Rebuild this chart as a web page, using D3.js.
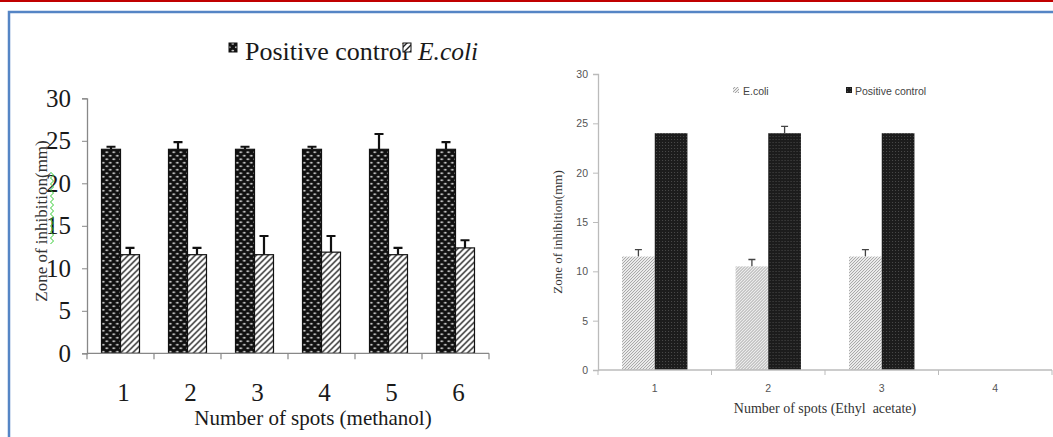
<!DOCTYPE html>
<html><head><meta charset="utf-8">
<script src="https://cdn.jsdelivr.net/npm/d3@7"></script>
<style>html,body{margin:0;padding:0;background:#fff;}svg{display:block;}</style>
</head><body>
<script>
// ---- data ----
const methanolCategories = ["1","2","3","4","5","6"];
const methanolPositive    = [24, 24, 24, 24, 24, 24];
const methanolPositiveErr = [0.3, 0.85, 0.3, 0.3, 1.8, 0.85];
const methanolEcoli       = [11.6, 11.6, 11.6, 11.9, 11.6, 12.4];
const methanolEcoliErr    = [0.8, 0.8, 2.2, 1.9, 0.8, 0.9];

const ethylCategories   = ["1","2","3","4"];
const ethylEcoli        = [11.5, 10.5, 11.5, null];
const ethylEcoliErr     = [0.7, 0.7, 0.7, null];
const ethylPositive     = [24, 24, 24, null];
const ethylPositiveErr  = [0, 0.7, 0, null];

const yTicks = [0, 5, 10, 15, 20, 25, 30];
const legendLeft  = ["Positive control", "E.coli"];
const legendRight = ["E.coli", "Positive control"];

const W = 1053, H = 437;
const svg = d3.select("body").append("svg").attr("width", W).attr("height", H);
const defs = svg.append("defs");

// patterns
const pDots = defs.append("pattern").attr("id","pDots").attr("patternUnits","userSpaceOnUse").attr("width",7).attr("height",7);
pDots.append("rect").attr("width",7).attr("height",7).attr("fill","#111");
pDots.append("ellipse").attr("cx",1.8).attr("cy",1.8).attr("rx",1.4).attr("ry",1).attr("fill","#c4c4c4");
pDots.append("ellipse").attr("cx",5.3).attr("cy",5.3).attr("rx",1.4).attr("ry",1).attr("fill","#c4c4c4");

const pHatch = defs.append("pattern").attr("id","pHatch").attr("patternUnits","userSpaceOnUse").attr("width",6).attr("height",6);
pHatch.append("rect").attr("width",6).attr("height",6).attr("fill","#fff");
pHatch.append("path").attr("d","M-1,7 L7,-1 M-4,4 L4,-4 M2,10 L10,2").attr("stroke","#222").attr("stroke-width",1.4);

const pHatchGray = defs.append("pattern").attr("id","pHatchGray").attr("patternUnits","userSpaceOnUse").attr("width",3).attr("height",3);
pHatchGray.append("rect").attr("width",3).attr("height",3).attr("fill","#ececec");
pHatchGray.append("path").attr("d","M-1,4 L4,-1 M-1,1 L1,-1 M2,4 L4,2").attr("stroke","#a5a5a5").attr("stroke-width",1);

const pDark = defs.append("pattern").attr("id","pDark").attr("patternUnits","userSpaceOnUse").attr("width",3).attr("height",3);
pDark.append("rect").attr("width",3).attr("height",3).attr("fill","#1c1c1c");
pDark.append("rect").attr("x",1).attr("y",1).attr("width",1).attr("height",1).attr("fill","#4a4a4a");

// frame
svg.append("rect").attr("x",0).attr("y",0).attr("width",W).attr("height",2).attr("fill","#c00000");
svg.append("path").attr("d",`M9,${H} L9,12 L${W},12`).attr("fill","none").attr("stroke","#5585c5").attr("stroke-width",2.5);

// ================= LEFT CHART =================
{
  const x0 = d3.scaleBand().domain(methanolCategories).range([87, 489]).paddingInner(0.433).paddingOuter(0.2165);
  const series = ["pos","eco"];
  const x1 = d3.scaleBand().domain(series).range([0, x0.bandwidth()]);
  const y = d3.scaleLinear().domain([0, 30]).range([353.3, 98.3]);
  const g = svg.append("g");

  const yAx = g.append("g").attr("transform","translate(87,0)")
    .call(d3.axisLeft(y).tickValues(yTicks).tickSize(5).tickPadding(11).tickFormat(d3.format("d")));
  yAx.select(".domain").attr("stroke","#888").attr("stroke-width",1.3);
  yAx.selectAll(".tick line").attr("stroke","#888");
  yAx.selectAll("text").attr("font-family","'Liberation Serif', serif").attr("font-size",25).attr("fill","#1a1a1a");

  const data = methanolCategories.map((c,i)=>({c, vals:[
    {k:"pos", v:methanolPositive[i], e:methanolPositiveErr[i], fill:"url(#pDots)"},
    {k:"eco", v:methanolEcoli[i], e:methanolEcoliErr[i], fill:"url(#pHatch)"}]}));
  const grp = g.selectAll(".grp").data(data).join("g").attr("transform",d=>`translate(${x0(d.c)},0)`);
  grp.selectAll(".err").data(d=>d.vals).join("path")
    .attr("d",d=>{const cx=x1(d.k)+x1.bandwidth()/2, t=y(d.v+d.e); return `M${cx},${y(d.v)} L${cx},${t} M${cx-4.5},${t} L${cx+4.5},${t}`;})
    .attr("stroke","#111").attr("stroke-width",2.2).attr("fill","none");
  grp.selectAll("rect").data(d=>d.vals).join("rect")
    .attr("x",d=>x1(d.k)).attr("width",x1.bandwidth())
    .attr("y",d=>y(d.v)).attr("height",d=>y(0)-y(d.v))
    .attr("fill",d=>d.fill).attr("stroke","#111").attr("stroke-width",1.2);

  const xAx = g.append("g").attr("transform",`translate(0,${y(0)})`);
  xAx.append("line").attr("x1",87).attr("x2",489).attr("stroke","#888").attr("stroke-width",1.3);
  const bounds = methanolCategories.map((c,i)=>87 + i*x0.step());
  bounds.push(489);
  xAx.selectAll(".xt").data(bounds).join("line").attr("x1",d=>d).attr("x2",d=>d).attr("y1",0).attr("y2",6).attr("stroke","#888").attr("stroke-width",1.2);
  g.selectAll(".xl").data(methanolCategories).join("text")
    .attr("x",d=>x0(d)+x0.bandwidth()/2 + 3).attr("y",401).attr("text-anchor","middle")
    .attr("font-family","'Liberation Serif', serif").attr("font-size",25).attr("fill","#1a1a1a").text(d=>d);

  g.append("text").attr("x",313).attr("y",425).attr("text-anchor","middle")
    .attr("font-family","'Liberation Serif', serif").attr("font-size",21).attr("fill","#1a1a1a").text("Number of spots (methanol)");
  g.append("text").attr("transform","translate(47,221) rotate(-90)").attr("text-anchor","middle")
    .attr("font-family","'Liberation Serif', serif").attr("font-size",17).attr("fill","#333").text("Zone of inhibition(mm)");
  const sq = d3.range(172, 246, 3).map((yy,i)=>[52 + (i%2? 1.5:-1.5), yy]);
  g.append("path").attr("d", d3.line()(sq)).attr("fill","none").attr("stroke","#3c3").attr("stroke-width",1);

  const lg = g.append("g");
  lg.append("rect").attr("x",229).attr("y",43).attr("width",8).attr("height",9).attr("fill","url(#pDots)").attr("stroke","#111");
  lg.append("text").attr("x",245).attr("y",60).attr("font-family","'Liberation Serif', serif").attr("font-size",26).attr("fill","#1a1a1a").text(legendLeft[0]);
  lg.append("text").attr("x",418).attr("y",60).attr("font-family","'Liberation Serif', serif").attr("font-style","italic").attr("font-size",25.5).attr("fill","#1a1a1a").text(legendLeft[1]);
  lg.append("rect").attr("x",403).attr("y",43).attr("width",8).attr("height",9).attr("fill","url(#pHatch)").attr("stroke","#111");
}

// ================= RIGHT CHART =================
{
  const x0 = d3.scaleBand().domain(ethylCategories).range([598, 1052]).paddingInner(0.424).paddingOuter(0.212);
  const series = ["eco","pos"];
  const x1 = d3.scaleBand().domain(series).range([0, x0.bandwidth()]);
  const y = d3.scaleLinear().domain([0, 30]).range([370, 74]);
  const g = svg.append("g");

  const yAx = g.append("g").attr("transform","translate(598,0)")
    .call(d3.axisLeft(y).tickValues(yTicks).tickSize(5).tickPadding(5).tickFormat(d3.format("d")));
  yAx.select(".domain").attr("stroke","#bbb").attr("stroke-width",1.3);
  yAx.selectAll(".tick line").attr("stroke","#bbb");
  yAx.selectAll("text").attr("font-family","'Liberation Sans', Arial, sans-serif").attr("font-size",10.5).attr("fill","#555");

  const data = ethylCategories.map((c,i)=>({c, vals:[
    {k:"eco", v:ethylEcoli[i], e:ethylEcoliErr[i], fill:"url(#pHatchGray)"},
    {k:"pos", v:ethylPositive[i], e:ethylPositiveErr[i], fill:"url(#pDark)"}].filter(d=>d.v!=null)}));
  const grp = g.selectAll(".grp").data(data).join("g").attr("transform",d=>`translate(${x0(d.c)},0)`);
  grp.selectAll(".err").data(d=>d.vals.filter(v=>v.e>0)).join("path")
    .attr("d",d=>{const cx=x1(d.k)+x1.bandwidth()/2, t=y(d.v+d.e); return `M${cx},${y(d.v)} L${cx},${t} M${cx-3.5},${t} L${cx+3.5},${t}`;})
    .attr("stroke","#444").attr("stroke-width",1.3).attr("fill","none");
  grp.selectAll("rect").data(d=>d.vals).join("rect")
    .attr("x",d=>x1(d.k)).attr("width",x1.bandwidth())
    .attr("y",d=>y(d.v)).attr("height",d=>y(0)-y(d.v))
    .attr("fill",d=>d.fill);

  const xAx = g.append("g").attr("transform",`translate(0,${y(0)})`);
  xAx.append("line").attr("x1",598).attr("x2",1052).attr("stroke","#bbb").attr("stroke-width",1.3);
  const bounds = ethylCategories.map((c,i)=>598 + i*x0.step()); bounds.push(1052);
  xAx.selectAll(".xt").data(bounds).join("line").attr("x1",d=>d).attr("x2",d=>d).attr("y1",0).attr("y2",5).attr("stroke","#bbb");
  g.selectAll(".xl").data(ethylCategories).join("text")
    .attr("x",d=>x0(d)+x0.bandwidth()/2).attr("y",392).attr("text-anchor","middle")
    .attr("font-family","'Liberation Sans', Arial, sans-serif").attr("font-size",10.5).attr("fill","#555").text(d=>d);

  g.append("text").attr("x",825).attr("y",413).attr("text-anchor","middle")
    .attr("font-family","'Liberation Serif', serif").attr("font-size",14).attr("fill","#333")
    .attr("xml:space","preserve").style("white-space","pre").text("Number of spots (Ethyl  acetate)");
  g.append("text").attr("transform","translate(562,232) rotate(-90)").attr("text-anchor","middle")
    .attr("font-family","'Liberation Serif', serif").attr("font-size",13).attr("fill","#333").text("Zone of inhibition(mm)");

  const lg = g.append("g");
  lg.append("rect").attr("x",733).attr("y",87).attr("width",6).attr("height",6).attr("fill","url(#pHatchGray)");
  lg.append("text").attr("x",743).attr("y",95).attr("font-family","'Liberation Sans', Arial, sans-serif").attr("font-size",10.5).attr("fill","#444").text(legendRight[0]);
  lg.append("rect").attr("x",846).attr("y",87).attr("width",6).attr("height",6).attr("fill","url(#pDark)");
  lg.append("text").attr("x",855).attr("y",95).attr("font-family","'Liberation Sans', Arial, sans-serif").attr("font-size",10.5).attr("fill","#444").text(legendRight[1]);
}
</script>
</body></html>
